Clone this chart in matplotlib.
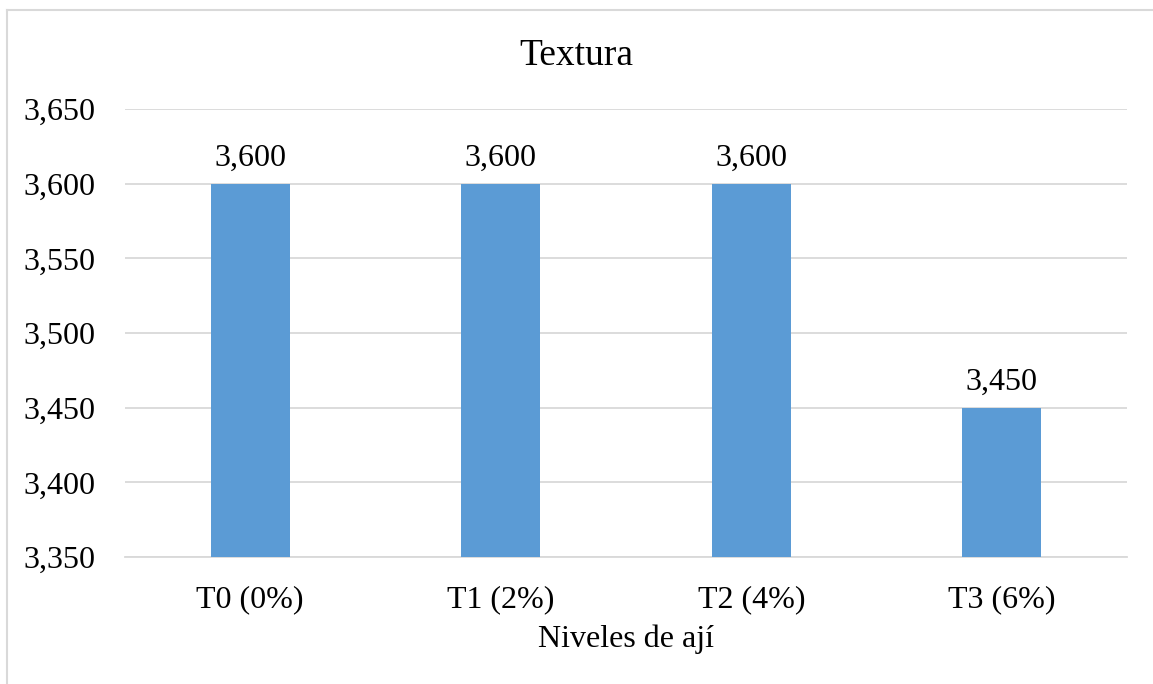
import matplotlib.pyplot as plt
from matplotlib.ticker import FuncFormatter
from matplotlib.lines import Line2D

plt.rcParams['font.family'] = ['Liberation Serif', 'DejaVu Serif']

categorias = ['T0 (0%)', 'T1 (2%)', 'T2 (4%)', 'T3 (6%)']
textura = [3.600, 3.600, 3.600, 3.450]
yticks = [3.350, 3.400, 3.450, 3.500, 3.550, 3.600, 3.650]


def coma(v, pos=None):
    return f'{v:.3f}'.replace('.', ',')


fig = plt.figure(figsize=(11.53, 6.84), dpi=100)
ax = fig.add_axes([125 / 1153, 1 - 557 / 684, (1127 - 125) / 1153, (557 - 109) / 684])

x = range(len(categorias))
ax.bar(x, textura, width=0.315, color='#5B9BD5', zorder=3)
for xi, v in zip(x, textura):
    ax.annotate(coma(v), (xi, v), xytext=(0, 8), textcoords='offset points',
                ha='center', va='bottom', fontsize=23)

ax.set_xlim(-0.5, len(categorias) - 0.5)
ax.set_ylim(yticks[0], yticks[-1])
ax.set_yticks(yticks)
ax.yaxis.set_major_formatter(FuncFormatter(coma))
ax.set_xticks(list(x))
ax.set_xticklabels(categorias)
ax.tick_params(axis='both', length=0, labelsize=23)
ax.tick_params(axis='x', pad=20)
ax.tick_params(axis='y', pad=21)
ax.grid(axis='y', color='#D9D9D9', linewidth=1.3, zorder=0)
for side in ['top', 'right', 'left']:
    ax.spines[side].set_visible(False)
ax.spines['bottom'].set_color('#D9D9D9')
ax.spines['bottom'].set_linewidth(1.3)

ax.set_xlabel('Niveles de ají', fontsize=23, labelpad=8)
fig.text(0.5, 1 - 56 / 684, 'Textura', ha='center', va='center', fontsize=27)

# marco del gráfico
fig.add_artist(Line2D([7 / 1153, 7 / 1153], [0, 1 - 10 / 684],
                      transform=fig.transFigure, color='#D9D9D9', linewidth=1.5))
fig.add_artist(Line2D([7 / 1153, 1], [1 - 10 / 684, 1 - 10 / 684],
                      transform=fig.transFigure, color='#D9D9D9', linewidth=1.5))

fig.savefig('out.png', dpi=100)
